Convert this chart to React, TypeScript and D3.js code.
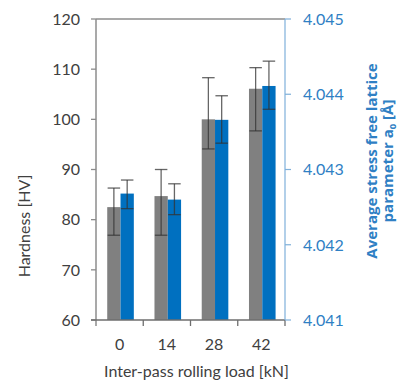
import React from "react";
import * as d3 from "d3";

// DATA
const loads = ["0", "14", "28", "42"];
const hardness = [82.5, 84.7, 100.0, 106.1];
const hardnessErrUp = [3.8, 5.3, 8.3, 4.2];
const hardnessErrDown = [5.6, 7.8, 5.9, 8.4];
const lattice = [4.04268, 4.0426, 4.04366, 4.04411];
const latticeErrUp = [0.00018, 0.00021, 0.00032, 0.00033];
const latticeErrDown = [0.0002, 0.0002, 0.00031, 0.00031];
const hardnessTicks = [60, 70, 80, 90, 100, 110, 120];
const latticeTicks = [4.041, 4.042, 4.043, 4.044, 4.045];

const FONT = "Lato, 'DejaVu Sans', sans-serif";
const GREY = "#808080";
const BLUE = "#0070c0";
const LABEL_BLUE = "#2f80c4";

export default function App() {
  const W = 401;
  const H = 383;
  const left = 96;
  const right = 285;
  const top = 19;
  const bottom = 320;

  const x = d3.scaleBand<string>().domain(loads).range([left, right]);
  const yH = d3.scaleLinear().domain([60, 120]).range([bottom, top]);
  const yL = d3.scaleLinear().domain([4.041, 4.045]).range([bottom, top]);
  const barW = 13.3;
  const capW = 12.5;

  const cx = (d: string) => (x(d) as number) + x.bandwidth() / 2 + 0.9;

  return (
    <div style={{ position: "absolute", left: 0, top: 0 }}>
      <svg width={W} height={H} style={{ display: "block" }} fontFamily={FONT}>
        <rect width={W} height={H} fill="#fff" />

        {/* BARS */}
        {loads.map((d, i) => (
          <g key={"b" + d}>
            <rect
              x={cx(d) - barW}
              y={yH(hardness[i])}
              width={barW}
              height={bottom - yH(hardness[i])}
              fill={GREY}
            />
            <rect
              x={cx(d)}
              y={yL(lattice[i])}
              width={barW}
              height={bottom - yL(lattice[i])}
              fill={BLUE}
            />
          </g>
        ))}

        {/* ERROR BARS */}
        {loads.map((d, i) => {
          const gx = cx(d) - barW / 2;
          const bx = cx(d) + barW / 2;
          const g1 = yH(hardness[i] + hardnessErrUp[i]);
          const g2 = yH(hardness[i] - hardnessErrDown[i]);
          const b1 = yL(lattice[i] + latticeErrUp[i]);
          const b2 = yL(lattice[i] - latticeErrDown[i]);
          return (
            <g key={"e" + d} stroke="#333" strokeOpacity={0.75} strokeWidth={1.3}>
              <line x1={gx} x2={gx} y1={g1} y2={g2} />
              <line x1={gx - capW / 2} x2={gx + capW / 2} y1={g1} y2={g1} />
              <line x1={gx - capW / 2} x2={gx + capW / 2} y1={g2} y2={g2} />
              <line x1={bx} x2={bx} y1={b1} y2={b2} />
              <line x1={bx - capW / 2} x2={bx + capW / 2} y1={b1} y2={b1} />
              <line x1={bx - capW / 2} x2={bx + capW / 2} y1={b2} y2={b2} />
            </g>
          );
        })}

        {/* TOP FRAME LINE */}
        <line x1={left} x2={right} y1={top} y2={top} stroke="#8c8c8c" strokeWidth={1.5} />

        {/* LEFT AXIS */}
        <line x1={left} x2={left} y1={top} y2={bottom + 6} stroke="#8c8c8c" strokeWidth={1.5} />
        {hardnessTicks.map((t) => (
          <g key={"h" + t}>
            <line x1={left - 5} x2={left} y1={yH(t)} y2={yH(t)} stroke="#8c8c8c" strokeWidth={1.3} />
            <text
              x={80}
              y={yH(t)}
              dy="0.36em"
              textAnchor="end"
              fontSize={16}
              fill="#404040"
            >
              {t}
            </text>
          </g>
        ))}

        {/* BOTTOM AXIS */}
        <line x1={left - 5} x2={right} y1={bottom} y2={bottom} stroke="#6e6e6e" strokeWidth={1.5} />
        {loads.slice(1).map((d) => (
          <line
            key={"t" + d}
            x1={x(d) as number}
            x2={x(d) as number}
            y1={bottom}
            y2={bottom + 6}
            stroke="#6e6e6e"
            strokeWidth={1.3}
          />
        ))}
        <line x1={right} x2={right} y1={bottom} y2={bottom + 6} stroke="#6e6e6e" strokeWidth={1.3} />
        {loads.map((d) => (
          <text
            key={"l" + d}
            x={(x(d) as number) + x.bandwidth() / 2}
            y={350}
            textAnchor="middle"
            fontSize={16}
            fill="#404040"
          >
            {d}
          </text>
        ))}
        <text x={(left + right) / 2 + 6} y={377} textAnchor="middle" fontSize={16} fill="#404040">
          Inter-pass rolling load [kN]
        </text>

        {/* LEFT TITLE */}
        <text
          transform={`translate(30,226) rotate(-90)`}
          textAnchor="middle"
          fontSize={16}
          fill="#404040"
        >
          Hardness [HV]
        </text>

        {/* RIGHT AXIS */}
        <line x1={right} x2={right} y1={top} y2={bottom} stroke="#7fb0da" strokeWidth={1.2} />
        {latticeTicks.map((t) => (
          <g key={"r" + t}>
            <line x1={right} x2={right + 6} y1={yL(t)} y2={yL(t)} stroke="#7fb0da" strokeWidth={1.2} />
            <text
              x={303}
              y={yL(t)}
              dy="0.36em"
              textAnchor="start"
              fontSize={16}
              fill={LABEL_BLUE}
            >
              {t.toFixed(3)}
            </text>
          </g>
        ))}

        {/* RIGHT TITLE */}
        <g
          transform="translate(377,161) rotate(-90)"
          fill={LABEL_BLUE}
          fontFamily="'Open Sans', sans-serif"
          fontWeight={700}
          fontSize={15}
        >
          <text x={0} y={0} textAnchor="middle">
            Average stress free lattice
          </text>
          <text x={0} y={16} textAnchor="middle">
            parameter a<tspan fontSize={9.5} dy={3}>0</tspan>
            <tspan dy={-3}> [Å]</tspan>
          </text>
        </g>
      </svg>
    </div>
  );
}
